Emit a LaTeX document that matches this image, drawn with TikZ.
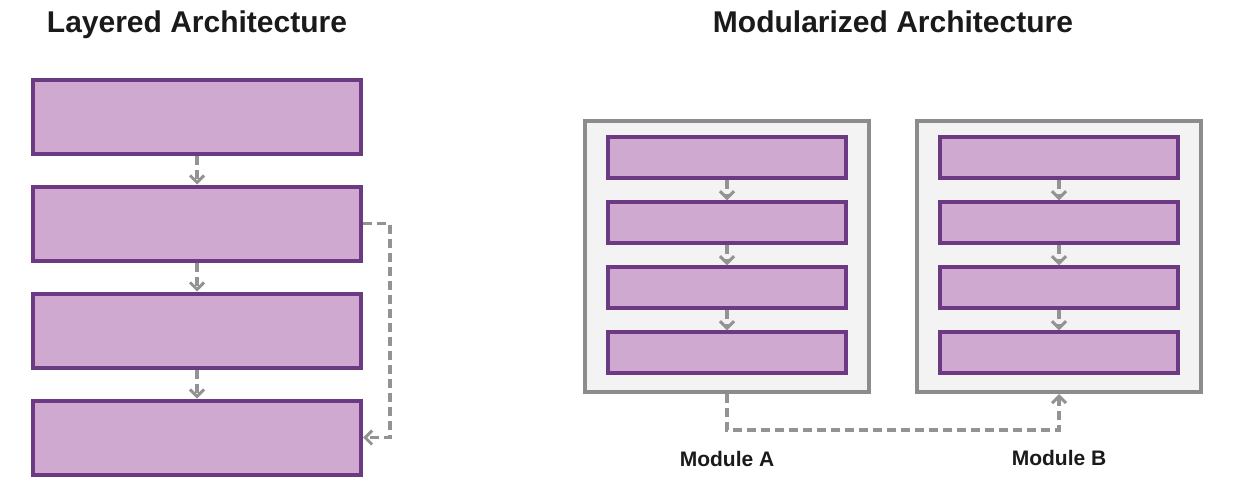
\documentclass[tikz,border=0pt]{standalone}
\usepackage{fontspec}
\setmainfont{Liberation Sans}
\usetikzlibrary{arrows.meta}
\definecolor{lyfill}{HTML}{CFA9D0}
\definecolor{lyline}{HTML}{6C3A82}
\definecolor{modline}{HTML}{8C8C8C}
\definecolor{modfill}{HTML}{F3F3F3}
\definecolor{conngray}{HTML}{939393}
\definecolor{txt}{HTML}{1A1A1A}
\begin{document}
\begin{tikzpicture}[x=1pt,y=-1pt,
  bigbox/.style={draw=lyline, fill=lyfill, line width=4pt, minimum width=328pt, minimum height=74pt, inner sep=0pt},
  smallbox/.style={draw=lyline, fill=lyfill, line width=3.4pt, minimum width=238pt, minimum height=41pt, inner sep=0pt},
  modbox/.style={draw=modline, fill=modfill, line width=4pt, minimum width=284pt, minimum height=271pt, inner sep=0pt},
  conn/.style={draw=conngray, line width=3.2pt, dash pattern=on 9pt off 5pt, -{Straight Barb[length=7pt,width=14pt,line width=3pt]}},
  title/.style={font=\fontsize{30}{36}\selectfont\bfseries, text=txt, anchor=base, inner sep=0pt},
  modlabel/.style={font=\fontsize{21}{25}\selectfont\bfseries, text=txt, anchor=base, inner sep=0pt}]
\useasboundingbox (0,0) rectangle (1246,489);
% titles
\node[title] (t1) at (197,33) {Layered Architecture};
\node[title] (t2) at (893,33) {Modularized Architecture};
% layered
\node[bigbox] (b1) at (197,117) {};
\node[bigbox] (b2) at (197,223.5) {};
\node[bigbox] (b3) at (197,330.5) {};
\node[bigbox] (b4) at (197,437.5) {};
\draw[conn] (b1.south) -- (b2.north);
\draw[conn] (b2.south) -- (b3.north);
\draw[conn] (b3.south) -- (b4.north);
\coordinate (fb) at (390,0);
\draw[conn] (b2.east) -- (b2.east -| fb) |- (b4.east);
% modules
\node[modbox] (ma) at (727,256.5) {};
\node[modbox] (mb) at (1059,256.5) {};
\foreach \m/\x in {a/727,b/1059}{
  \node[smallbox] (\m1) at (\x,157.5) {};
  \node[smallbox] (\m2) at (\x,222.5) {};
  \node[smallbox] (\m3) at (\x,287.5) {};
  \node[smallbox] (\m4) at (\x,352.5) {};
  \draw[conn] (\m1.south) -- (\m2.north);
  \draw[conn] (\m2.south) -- (\m3.north);
  \draw[conn] (\m3.south) -- (\m4.north);
}
\draw[conn] (ma.south) -- ++(0,36) -| (mb.south);
\node[modlabel] (la) at (727,466) {Module A};
\node[modlabel] (lb) at (1059,465) {Module B};
\end{tikzpicture}
\end{document}
